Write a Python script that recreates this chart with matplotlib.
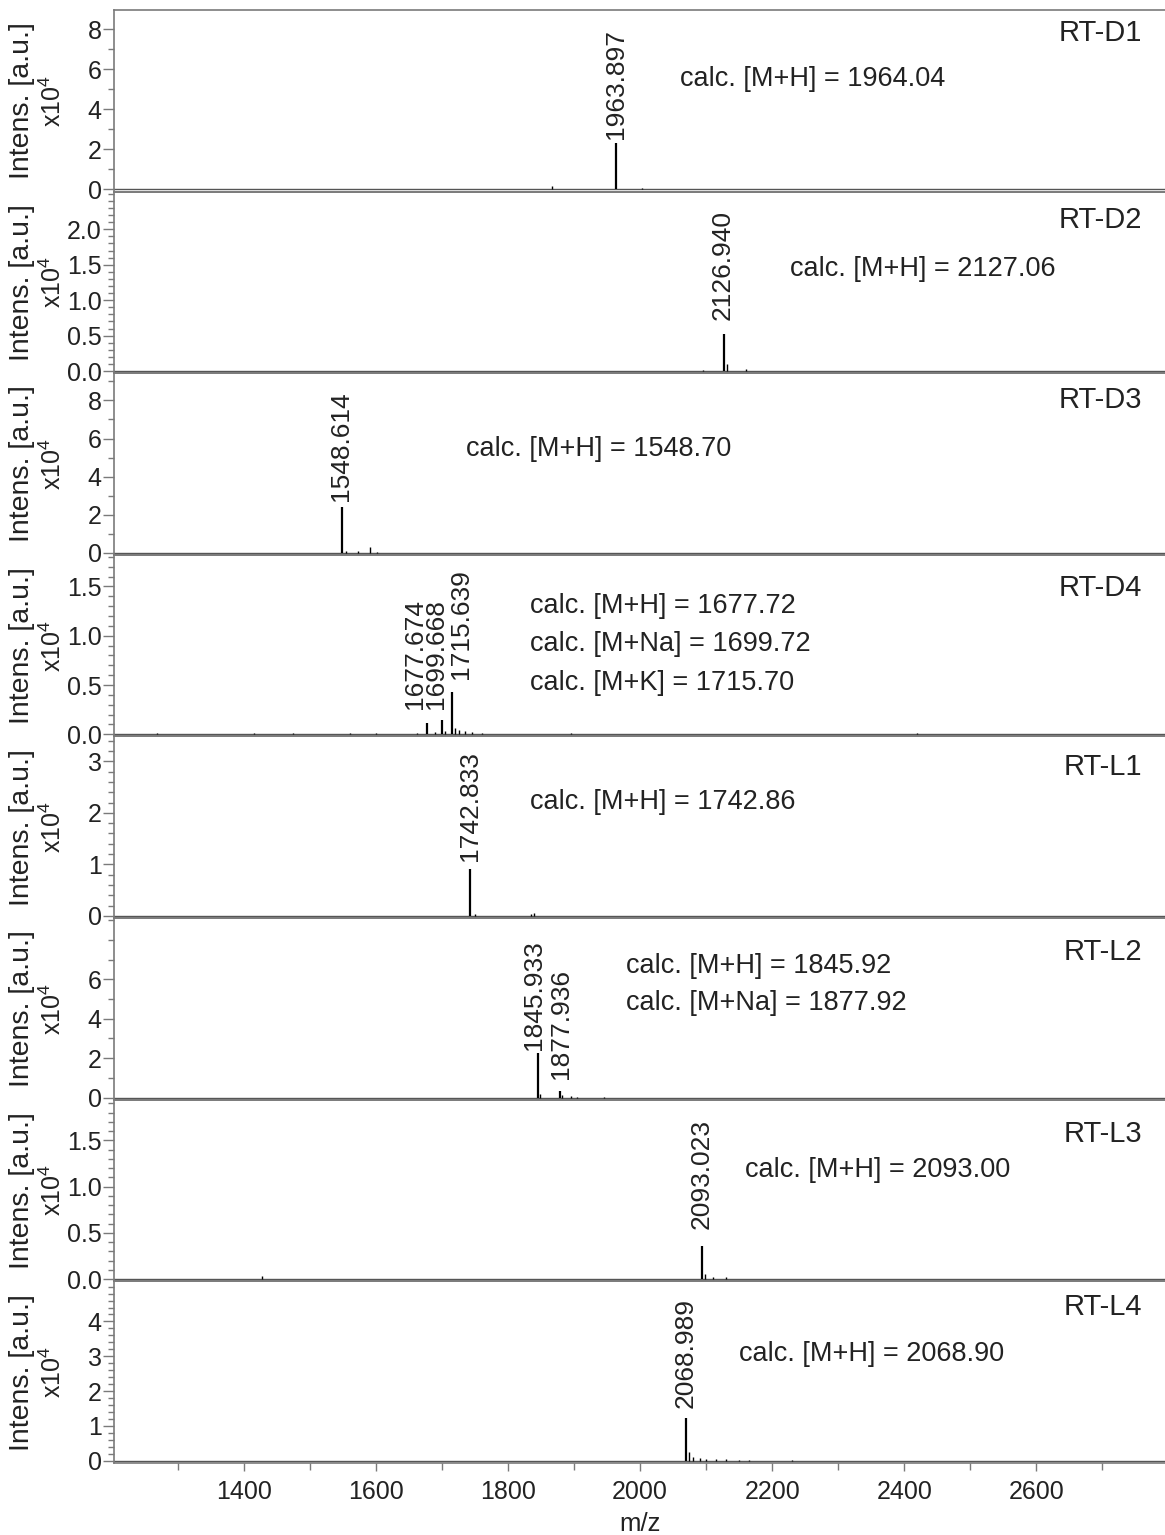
import matplotlib
matplotlib.use("Agg")
import matplotlib.pyplot as plt
from matplotlib.ticker import MultipleLocator, FixedLocator, FormatStrFormatter

plt.rcParams['font.family'] = ['Liberation Sans', 'DejaVu Sans']
plt.rcParams['mathtext.fontset'] = 'custom'
plt.rcParams['mathtext.rm'] = 'Liberation Sans'

# --- data (intensities in units of 1e4) ---
names = ["RT-D1", "RT-D2", "RT-D3", "RT-D4", "RT-L1", "RT-L2", "RT-L3", "RT-L4"]

peak_mz = [[1963.897], [2126.940], [1548.614], [1677.674, 1699.668, 1715.639],
           [1742.833], [1845.933, 1877.936], [2093.023], [2068.989]]
peak_int = [[2.34], [0.52], [2.38], [0.12, 0.15, 0.43],
            [0.92], [2.25, 0.33], [0.36], [1.23]]

minor_mz = [[1518, 1636, 1866, 2003],
            [2095, 2131, 2160],
            [1555, 1572, 1591, 1602],
            [1268, 1415, 1475, 1560, 1600, 1662, 1690, 1705, 1720, 1726, 1735,
             1745, 1760, 1895, 2250, 2420],
            [1750, 1835, 1840],
            [1849, 1882, 1895, 1905, 1945],
            [1428, 2098, 2110, 2130],
            [2074, 2080, 2090, 2100, 2115, 2130, 2150, 2165, 2230]]
minor_int = [[0.03, 0.03, 0.15, 0.06],
             [0.02, 0.1, 0.03],
             [0.1, 0.08, 0.3, 0.05],
             [0.01, 0.01, 0.01, 0.01, 0.01, 0.01, 0.02, 0.03, 0.06, 0.04, 0.03,
              0.02, 0.015, 0.015, 0.005, 0.01],
             [0.04, 0.03, 0.05],
             [0.2, 0.12, 0.1, 0.04, 0.04],
             [0.03, 0.06, 0.02, 0.02],
             [0.25, 0.1, 0.08, 0.06, 0.05, 0.04, 0.03, 0.02, 0.01]]

calc_texts = [["calc. [M+H] = 1964.04"],
              ["calc. [M+H] = 2127.06"],
              ["calc. [M+H] = 1548.70"],
              ["calc. [M+H] = 1677.72", "calc. [M+Na] = 1699.72", "calc. [M+K] = 1715.70"],
              ["calc. [M+H] = 1742.86"],
              ["calc. [M+H] = 1845.92", "calc. [M+Na] = 1877.92"],
              ["calc. [M+H] = 2093.00"],
              ["calc. [M+H] = 2068.90"]]

y_top = [8.96, 2.53, 9.43, 1.82, 3.48, 9.1, 1.94, 5.15]
y_major = [[0, 2, 4, 6, 8], [0, 0.5, 1.0, 1.5, 2.0], [0, 2, 4, 6, 8], [0, 0.5, 1.0, 1.5],
           [0, 1, 2, 3], [0, 2, 4, 6], [0, 0.5, 1.0, 1.5], [0, 1, 2, 3, 4]]
y_minor = [1, 0.1, 1, 0.1, 0.2, 1, 0.1, 0.2]
y_fmt = ['%d', '%.1f', '%d', '%.1f', '%d', '%d', '%.1f', '%d']

# --- layout / styles ---
label_offsets = [[(0, 4)], [(-1, 14)], [(-1, 6)], [(-12, 14), (-6, 11), (9, 13)],
                 [(0, 8)], [(-4, 3), (1, 12)], [(0, 17)], [(0, 10)]]
calc_pos = [(0.538, [0.622]), (0.643, [0.573]), (0.335, [0.584]),
            (0.396, [0.716, 0.507, 0.297]), (0.396, [0.639]),
            (0.487, [0.738, 0.534]), (0.600, [0.611]), (0.595, [0.600])]
name_y = [0.876, 0.843, 0.854, 0.820, 0.831, 0.815, 0.809, 0.859]

W, H = 1165, 1535
left_px, top_px, bottom_px = 114.3, 10, 1463
ph = (bottom_px - top_px) / len(names)
txt = '#222222'
grey = '#7a7a7a'
fs = 17.5

fig = plt.figure(figsize=(W / 100, H / 100), dpi=100)
for i in range(len(names)):
    rect = [left_px / W, 1 - (top_px + (i + 1) * ph) / H, 1 - left_px / W, ph / H]
    ax = fig.add_axes(rect)

    ax.axhline(0, color='#555555', lw=1.0, zorder=2)
    ax.vlines(minor_mz[i], 0, minor_int[i], color='black', lw=1.0, zorder=3)
    ax.vlines(peak_mz[i], 0, peak_int[i], color='black', lw=1.6, zorder=3)

    for mz, h, off in zip(peak_mz[i], peak_int[i], label_offsets[i]):
        ax.annotate('%.3f' % mz, xy=(mz, h), xytext=off, textcoords='offset pixels',
                    rotation=90, ha='center', va='bottom', fontsize=19, color=txt)

    cx, cys = calc_pos[i]
    for t, cy in zip(calc_texts[i], cys):
        ax.text(cx, cy, t, transform=ax.transAxes, ha='left', va='center',
                fontsize=19.5, color=txt)
    ax.text(0.978, name_y[i], names[i], transform=ax.transAxes, ha='right',
            va='center', fontsize=21, color=txt)

    ax.text(-0.088, 0.5, 'Intens. [a.u.]', transform=ax.transAxes, rotation=90,
            ha='center', va='center', fontsize=20.5, color=txt)
    ax.text(-0.059, 0.5, r'x10$^\mathregular{4}$', transform=ax.transAxes, rotation=90,
            ha='center', va='center', fontsize=18, color=txt)

    ax.set_xlim(1203.6, 2795)
    ax.set_ylim(-0.012 * y_top[i], y_top[i])
    ax.yaxis.set_major_locator(FixedLocator(y_major[i]))
    ax.yaxis.set_minor_locator(MultipleLocator(y_minor[i]))
    ax.yaxis.set_major_formatter(FormatStrFormatter(y_fmt[i]))
    ax.tick_params(axis='y', which='major', length=8, width=1, color=grey,
                   labelsize=18, labelcolor=txt, pad=1)
    ax.tick_params(axis='y', which='minor', length=4, width=1, color=grey)
    ax.spines['right'].set_visible(False)
    for s in ['left', 'top', 'bottom']:
        ax.spines[s].set_color(grey)
        ax.spines[s].set_linewidth(1.2)
    ax.set_facecolor('none')

    if i < len(names) - 1:
        ax.tick_params(axis='x', which='both', bottom=False, labelbottom=False)
    else:
        ax.xaxis.set_major_locator(MultipleLocator(200))
        ax.xaxis.set_minor_locator(MultipleLocator(100))
        ax.tick_params(axis='x', which='major', length=6, width=1, color=grey,
                       labelsize=18, labelcolor=txt, pad=6)
        ax.tick_params(axis='x', which='minor', length=5, width=1, color=grey)
        ax.set_xlabel('m/z', fontsize=18.5, color=txt, labelpad=6)

fig.savefig('out.png', dpi=100)
